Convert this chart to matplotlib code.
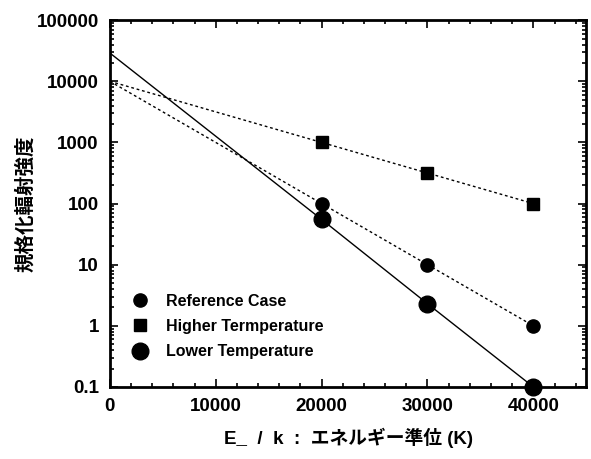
import numpy as np
import matplotlib
matplotlib.use("Agg")
import matplotlib.pyplot as plt
from matplotlib.ticker import MultipleLocator, LogLocator, FuncFormatter

# data (energy level E/k in K, normalised intensity)
energy = [0, 20000, 30000, 40000]
ref_case = [10000, 100, 10, 1]
higher_temp = [10000, 1000, 316, 100]
lower_temp = [29000, 55, 2.3, 0.1]

labels = ["Reference Case", "Higher Termperature", "Lower Temperature"]
ylabel = "規格化輻射強度"
xlabel = "E_  /  k  :  エネルギー準位 (K)"

plt.rcParams['font.family'] = ['Liberation Sans', 'Noto Sans CJK JP', 'DejaVu Sans']
plt.rcParams['font.weight'] = 'bold'

fig = plt.figure(figsize=(5.91, 4.59), dpi=100)
ax = fig.add_axes([0.186, 0.157, 0.806, 0.799])

# lines (from x=0), markers only on measured points
ax.plot(energy, ref_case, color='black', lw=1.0, ls=(0, (2, 2)))
ax.plot(energy, higher_temp, color='black', lw=1.0, ls=(0, (2, 2)))
ax.plot(energy, lower_temp, color='black', lw=1.0, ls='-')

ax.plot(energy[1:], ref_case[1:], 'o', color='black', ms=9.5, ls='none',
        label=labels[0], clip_on=False, zorder=5)
ax.plot(energy[1:], higher_temp[1:], 's', color='black', ms=8.5, ls='none',
        label=labels[1], clip_on=False, zorder=5)
ax.plot(energy[1:], lower_temp[1:], 'o', color='black', ms=12, ls='none',
        label=labels[2], clip_on=False, zorder=5)

ax.set_yscale('log')
ax.set_xlim(0, 45000)
ax.set_ylim(0.1, 100000)

ax.xaxis.set_major_locator(MultipleLocator(10000))
ax.xaxis.set_minor_locator(MultipleLocator(2000))
ax.yaxis.set_major_locator(LogLocator(base=10, numticks=10))
ax.yaxis.set_minor_locator(LogLocator(base=10, subs=np.arange(2, 10), numticks=20))
ax.yaxis.set_major_formatter(FuncFormatter(lambda v, p: '%g' % v))
ax.xaxis.set_major_formatter(FuncFormatter(lambda v, p: '%d' % v))

ax.tick_params(which='both', direction='in', top=True, right=True, width=1.2)
ax.tick_params(which='major', length=6, labelsize=13.5, pad=8)
ax.tick_params(which='minor', length=3)
for s in ax.spines.values():
    s.set_linewidth(2)

for t in ax.get_xticklabels() + ax.get_yticklabels():
    t.set_fontweight('bold')

ax.set_xlabel(xlabel, fontsize=13.5, fontweight='bold', labelpad=9)
ax.set_ylabel(ylabel, fontsize=14, fontweight='bold', labelpad=1)

leg = ax.legend(loc='upper left', bbox_to_anchor=(0.03, 0.272), frameon=False,
                fontsize=11.5, handletextpad=1.0, labelspacing=0.65,
                handlelength=1.2, borderaxespad=0)
for t in leg.get_texts():
    t.set_fontweight('bold')

fig.savefig('out.png', dpi=100)
